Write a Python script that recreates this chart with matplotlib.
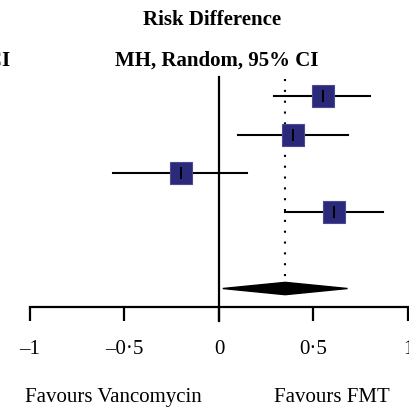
import matplotlib
matplotlib.use("Agg")
import matplotlib.pyplot as plt

# study estimates (risk difference) and 95% CI
estimates = [0.55, 0.39, -0.20, 0.61]
ci_low = [0.29, 0.10, -0.56, 0.35]
ci_high = [0.80, 0.68, 0.15, 0.87]
rows = [1, 2, 3, 4]

# pooled MH random effect
pooled = 0.35
pooled_low = 0.02
pooled_high = 0.68
pooled_row = 6

ticks = [-1, -0.5, 0, 0.5, 1]
tick_labels = ["\u20131", "\u20130\u00b75", "0", "0\u00b75", "1"]

plt.rcParams['font.family'] = ['Liberation Serif', 'DejaVu Serif']

W = 410.0
fig = plt.figure(figsize=(4.1, 4.1), dpi=100)
ax = fig.add_axes([30 / W, (W - 308) / W, 378 / W, 230 / W])
ax.set_xlim(-1, 1)
ax.set_ylim(6.48, 0.506)
ax.patch.set_visible(False)

for s in ['top', 'right', 'left']:
    ax.spines[s].set_visible(False)
ax.spines['bottom'].set_linewidth(1.6)
ax.set_yticks([])
ax.set_xticks(ticks)
ax.set_xticklabels(tick_labels, fontsize=15)
ax.tick_params(axis='x', direction='out', length=10, width=1.6, pad=13)

# line of no effect
ax.axvline(0, ymin=-0.061, ymax=1, color='black', lw=1.6, clip_on=False)
# dotted line at pooled estimate
ax.vlines(pooled, 0.55, pooled_row - 0.2, colors='black', linestyles=(0, (1, 4.2)), lw=1.5)

# CI lines, squares and centre ticks
for r, e, lo, hi in zip(rows, estimates, ci_low, ci_high):
    ax.plot([lo, hi], [r, r], color='black', lw=1.5, zorder=2)
    ax.plot(e, r, marker='s', ms=15.5, color='#2b2a7a', mec='#4a4992', mew=0.8, zorder=3)
    ax.plot(e, r, marker='|', ms=8.5, color='black', mew=1.4, zorder=4)

# pooled diamond
ax.fill([pooled_low, pooled, pooled_high, pooled],
        [pooled_row, pooled_row - 0.16, pooled_row, pooled_row + 0.16],
        color='black', zorder=3)

fig.text(212 / W, 1 - 20 / W, "Risk Difference", ha='center', va='center',
         fontsize=15, fontweight='bold')
fig.text(216.5 / W, 1 - 61 / W, "MH, Random, 95% CI", ha='center', va='center',
         fontsize=15, fontweight='bold')
fig.text(10 / W, 1 - 61 / W, "95% CI", ha='right', va='center',
         fontsize=15, fontweight='bold')
fig.text(113.5 / W, 1 - 398 / W, "Favours Vancomycin", ha='center', va='center', fontsize=15)
fig.text(331.5 / W, 1 - 398 / W, "Favours FMT", ha='center', va='center', fontsize=15)

fig.savefig("out.png", dpi=100)
